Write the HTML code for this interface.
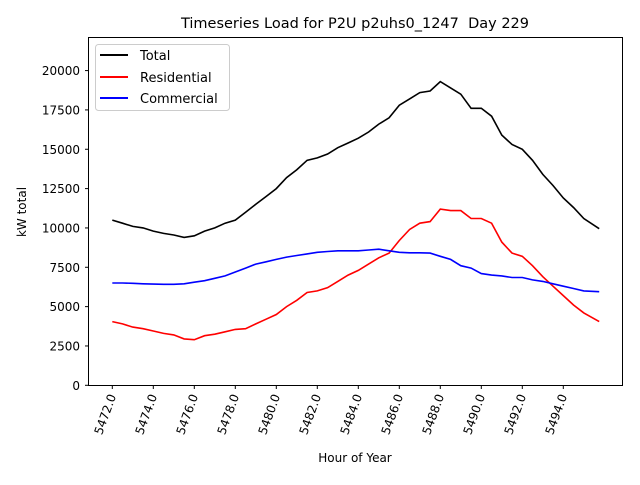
<!DOCTYPE html>
<html><head><meta charset="utf-8"><style>
body{margin:0;background:#fff}
svg{font-family:"DejaVu Sans","Liberation Sans",sans-serif}
</style></head><body>
<svg id="chart" width="640" height="480">
<rect width="640" height="480" fill="#fff"/>
<text x="355" y="28" font-size="14.5" text-anchor="middle">Timeseries Load for P2U p2uhs0_1247&#160; Day 229</text>
<text x="355" y="462" font-size="12" text-anchor="middle">Hour of Year</text>
<text transform="translate(26,212) rotate(-90)" font-size="12" text-anchor="middle">kW total</text>
<g id="ticks"></g>
<g id="series"></g>
<rect x="88.5" y="37.5" width="534" height="348" fill="none" stroke="#000" stroke-width="1"/>
<g>
<rect x="95.5" y="44.5" width="134" height="66" rx="3" fill="#fff" fill-opacity="0.8" stroke="#ccc"/>
<line x1="100" y1="55" x2="128" y2="55" stroke="#000" stroke-width="2"/>
<text x="140" y="60" font-size="13">Total</text>
<line x1="100" y1="77" x2="128" y2="77" stroke="#f00" stroke-width="2"/>
<text x="140" y="82" font-size="13">Residential</text>
<line x1="100" y1="98" x2="128" y2="98" stroke="#00f" stroke-width="2"/>
<text x="140" y="103" font-size="13">Commercial</text>
</g>
</svg>
<script>
const hours=[5472,5472.5,5473,5473.5,5474,5474.5,5475,5475.5,5476,5476.5,5477,5477.5,5478,5478.5,5479,5479.5,5480,5480.5,5481,5481.5,5482,5482.5,5483,5483.5,5484,5484.5,5485,5485.5,5486,5486.5,5487,5487.5,5488,5488.5,5489,5489.5,5490,5490.5,5491,5491.5,5492,5492.5,5493,5493.5,5494,5494.5,5495,5495.75];
const total=[10500,10300,10100,10000,9800,9650,9550,9400,9500,9800,10000,10300,10500,11000,11500,12000,12500,13200,13700,14300,14450,14700,15100,15400,15700,16100,16600,17000,17800,18200,18600,18700,19300,18900,18500,17600,17600,17100,15900,15300,15000,14300,13400,12700,11900,11300,10600,9950];
const residential=[4050,3900,3700,3600,3450,3300,3200,2950,2900,3150,3250,3400,3550,3600,3900,4200,4500,5000,5400,5900,6000,6200,6600,7000,7300,7700,8100,8400,9200,9900,10300,10400,11200,11100,11100,10600,10600,10300,9100,8400,8200,7600,6900,6300,5700,5100,4600,4050];
const commercial=[6500,6500,6480,6450,6430,6420,6420,6450,6550,6650,6800,6950,7200,7450,7700,7850,8000,8150,8250,8350,8450,8500,8550,8550,8550,8600,8650,8550,8450,8420,8420,8400,8200,8000,7600,7450,7100,7000,6950,6850,6850,6700,6600,6450,6300,6150,6000,5950];
const xTicks=[5472,5474,5476,5478,5480,5482,5484,5486,5488,5490,5492,5494];
const yTicks=[0,2500,5000,7500,10000,12500,15000,17500,20000];
const NS="http://www.w3.org/2000/svg";
function xs(h){return 112.3+(h-5472)*20.5;}
function ys(v){return 385.3-v/2500*39.34;}
const tg=document.getElementById('ticks');
xTicks.forEach(t=>{
  const l=document.createElementNS(NS,'line');
  l.setAttribute('x1',xs(t));l.setAttribute('x2',xs(t));l.setAttribute('y1',385.5);l.setAttribute('y2',389);
  l.setAttribute('stroke','#000');
  
  
  tg.appendChild(l);
  const tx=document.createElementNS(NS,'text');
  tx.setAttribute('transform','translate('+(xs(t)+4)+',396) rotate(-70)');
  tx.setAttribute('font-size','12');tx.setAttribute('text-anchor','end');
  tx.textContent=t.toFixed(1);
  
  
  tg.appendChild(tx);
});
yTicks.forEach(t=>{
  const l=document.createElementNS(NS,'line');
  l.setAttribute('x1',85);l.setAttribute('x2',88.5);l.setAttribute('y1',ys(t));l.setAttribute('y2',ys(t));
  l.setAttribute('stroke','#000');
  
  
  tg.appendChild(l);
  const tx=document.createElementNS(NS,'text');
  tx.setAttribute('x',80);tx.setAttribute('y',ys(t)+4.5);
  tx.setAttribute('font-size','12');tx.setAttribute('text-anchor','end');
  tx.textContent=t;
  
  
  tg.appendChild(tx);
});
const sg=document.getElementById('series');
[[total,'#000','total-line'],[residential,'#f00','residential-line'],[commercial,'#00f','commercial-line']].forEach(([vals,c,n])=>{
  const p=document.createElementNS(NS,'polyline');
  p.setAttribute('points',vals.map((v,i)=>xs(hours[i]).toFixed(1)+','+ys(v).toFixed(1)).join(' '));
  p.setAttribute('fill','none');p.setAttribute('stroke',c);p.setAttribute('stroke-width','1.6');
  
  
  sg.appendChild(p);
});
</script>
</body></html>
